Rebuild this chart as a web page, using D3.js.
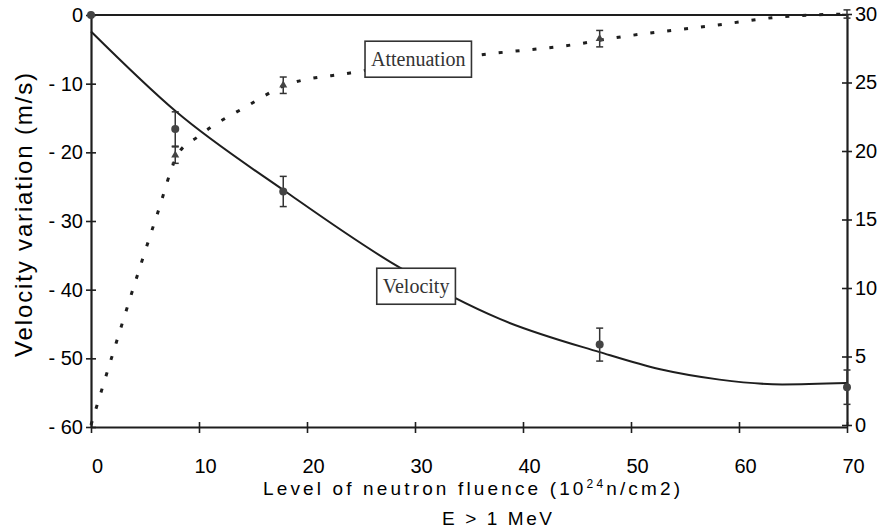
<!DOCTYPE html>
<html><head><meta charset="utf-8">
<script src="https://cdn.jsdelivr.net/npm/d3@7"></script>
<style>
html,body{margin:0;padding:0;background:#fff;}
svg{display:block;}
</style></head>
<body>
<svg id="chart" width="886" height="532"></svg>
<script>
// ---- data ----
const fluence = [0, 7.8, 17.8, 47.1, 70];              // 10^24 n/cm2
const velocity = [0, -16.6, -25.7, -48.0, -54.2];      // m/s (left axis)
const velocityErr = [0, 2.5, 2.2, 2.4, 2.5];
const attenuation = [0, 19.7, 24.8, 28.2, 30.0];       // right axis
const attenuationErr = [0, 0.6, 0.6, 0.6, 0.3];

// fitted curves
const velocityFitX = [0, 7.9, 18, 28.6, 37.9, 47.1, 52.7, 58.2, 64, 70];
const velocityFitY = [-2.4, -14.1, -25.7, -36.8, -44.3, -49.1, -51.6, -53.1, -53.8, -53.6];
const attenFitX = [0, 6.1, 8, 10, 14.5, 18, 24, 37, 45, 48, 58, 64, 70];
const attenFitY = [0, 15.3, 19.7, 21.1, 23.3, 24.8, 25.7, 27.1, 27.8, 28.2, 29.2, 29.8, 30];

const xTicks = [0, 10, 20, 30, 40, 50, 60, 70];
const leftTicks = [0, -10, -20, -30, -40, -50, -60];
const rightTicks = [0, 5, 10, 15, 20, 25, 30];

const labelNames = ["Attenuation", "Velocity"];
const labelX = [30.3, 30.1];
const labelY = [26.7, -39.5];   // attenuation on right axis, velocity on left axis

// ---- scales ----
const svg = d3.select("#chart");
const x = d3.scaleLinear().domain([0, 70]).range([91, 847]);
const yL = d3.scaleLinear().domain([-60, 0]).range([427, 15]);
const yR = d3.scaleLinear().domain([0, 30]).range([425, 14]);

const ink = "#1e1e1e";
const sans = "'Liberation Sans', Arial, sans-serif";

// frame (top border line)
svg.append("line").attr("x1", x(0)).attr("x2", x(70)).attr("y1", yL(0)).attr("y2", yL(0))
  .attr("stroke", ink).attr("stroke-width", 2.2);

// axes
const gx = svg.append("g").attr("transform", `translate(0,${yL(-60)})`)
  .call(d3.axisBottom(x).tickValues(xTicks).tickSizeInner(0).tickSizeOuter(0).tickPadding(32));
const gl = svg.append("g").attr("transform", `translate(${x(0)},0)`)
  .call(d3.axisLeft(yL).tickValues(leftTicks).tickSizeInner(5).tickSizeOuter(0).tickPadding(3));
const gr = svg.append("g").attr("transform", `translate(${x(70)},0)`)
  .call(d3.axisRight(yR).tickValues(rightTicks).tickSizeInner(5).tickSizeOuter(0).tickPadding(4));

[gx, gl, gr].forEach(g => {
  g.select(".domain").attr("stroke", ink).attr("stroke-width", 2.2);
  g.selectAll(".tick line").attr("stroke", ink).attr("stroke-width", 1.6);
  g.selectAll(".tick text").attr("fill", "#000").style("font-family", sans).style("font-size", "20px");
});
// ticks crossing the axis
gx.selectAll(".tick line").attr("y1", -5).attr("y2", 6);
gx.selectAll(".tick text").attr("dx", 6);
gl.selectAll(".tick line").attr("x1", -5).attr("x2", 5);
gl.selectAll(".tick text").text(d => d === 0 ? "0" : "- " + Math.abs(d));
gr.selectAll(".tick line").attr("x1", -5).attr("x2", 5);
gr.selectAll(".tick text").attr("x", 8);

// ---- curves ----
const lineV = d3.line().x(d => x(d[0])).y(d => yL(d[1])).curve(d3.curveMonotoneX);
const lineA = d3.line().x(d => x(d[0])).y(d => yR(d[1])).curve(d3.curveMonotoneX);

svg.append("path").datum(velocityFitX.map((v, i) => [v, velocityFitY[i]]))
  .attr("d", lineV).attr("fill", "none").attr("stroke", ink).attr("stroke-width", 2);
svg.append("path").datum(attenFitX.map((v, i) => [v, attenFitY[i]]))
  .attr("d", lineA).attr("fill", "none").attr("stroke", ink).attr("stroke-width", 3)
  .attr("stroke-dasharray", "4,13");

// ---- error bars and markers ----
const vPts = fluence.map((f, i) => ({f, v: velocity[i], e: velocityErr[i]}));
const aPts = fluence.map((f, i) => ({f, v: attenuation[i], e: attenuationErr[i]}));

function errBars(pts, y) {
  const g = svg.append("g").attr("stroke", "#333").attr("stroke-width", 1.5);
  pts.filter(d => d.e > 0).forEach(d => {
    g.append("line").attr("x1", x(d.f)).attr("x2", x(d.f)).attr("y1", y(d.v - d.e)).attr("y2", y(d.v + d.e));
    [d.v - d.e, d.v + d.e].forEach(v => g.append("line")
      .attr("x1", x(d.f) - 3.5).attr("x2", x(d.f) + 3.5).attr("y1", y(v)).attr("y2", y(v)));
  });
}
errBars(vPts, yL);
errBars(aPts, yR);

svg.append("g").selectAll("circle").data(vPts).join("circle")
  .attr("cx", d => x(d.f)).attr("cy", d => yL(d.v)).attr("r", 4).attr("fill", "#444");
svg.append("g").selectAll("path").data(aPts.filter(d => d.f > 0 && d.f < 70)).join("path")
  .attr("d", d3.symbol(d3.symbolTriangle, 28))
  .attr("transform", d => `translate(${x(d.f)},${yR(d.v)})`).attr("fill", "#444");

// ---- labels in boxes ----
const labelScales = [yR, yL];
labelNames.forEach((name, i) => {
  const cx = x(labelX[i]), cy = labelScales[i](labelY[i]);
  const g = svg.append("g");
  const rect = g.append("rect").attr("fill", "#fff").attr("stroke", "#333").attr("stroke-width", 1.6);
  const t = g.append("text").attr("x", cx).attr("y", cy).attr("text-anchor", "middle")
    .attr("dominant-baseline", "central").style("font-family", "'Liberation Serif', 'Times New Roman', serif")
    .style("font-size", "20px").attr("fill", "#333").text(name);
  const bb = t.node().getBBox();
  rect.attr("x", bb.x - 6).attr("y", cy - 18).attr("width", bb.width + 12).attr("height", 36);
});

// ---- axis titles ----
svg.append("text").attr("transform", "translate(32,215) rotate(-90)").attr("text-anchor", "middle")
  .style("font-family", sans).style("font-size", "24px").attr("fill", "#000")
  .attr("textLength", 284).attr("lengthAdjust", "spacing").text("Velocity variation (m/s)");

const xt = svg.append("text").attr("x", 263).attr("y", 495).attr("textLength", 417).attr("lengthAdjust", "spacing")
  .style("font-family", sans).style("font-size", "19px").attr("fill", "#000");
xt.append("tspan").text("Level of neutron fluence (10");
xt.append("tspan").attr("dy", -7).style("font-size", "12px").text("24");
xt.append("tspan").attr("dy", 7).text("n/cm2)");

svg.append("text").attr("x", 497).attr("y", 525).attr("text-anchor", "middle")
  .style("font-family", sans).style("font-size", "19px").attr("fill", "#000")
  .attr("textLength", 110).attr("lengthAdjust", "spacing").text("E > 1 MeV");
</script>
</body></html>
